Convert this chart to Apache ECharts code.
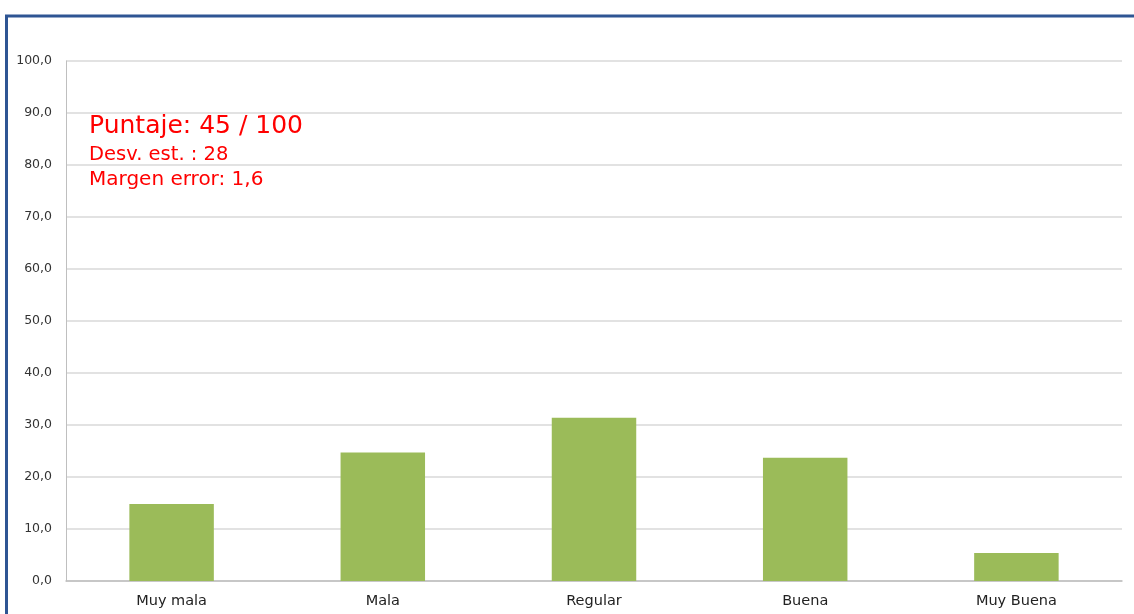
<!DOCTYPE html>
<html>
<head>
<meta charset="utf-8">
<script src="https://cdn.jsdelivr.net/npm/echarts@6/dist/echarts.min.js"></script>
<style>
  html, body { margin: 0; padding: 0; background: #fff; }
  #box { width: 1134px; height: 614px; }
</style>
</head>
<body>
<div id="box"></div>
<script>
// categorías y porcentajes
const categorias = ['Muy mala', 'Mala', 'Regular', 'Buena', 'Muy Buena'];
const valores = [14.8, 24.7, 31.4, 23.7, 5.4];
// texto de resumen
const resumen = ['Puntaje: 45 / 100', 'Desv. est. : 28', 'Margen error: 1,6'];

let chart = echarts.init(document.getElementById('box'));

const fuente = '"DejaVu Sans", Verdana, sans-serif';

let option = {
    backgroundColor: '#fff',
    animation: false,
    grid: { left: 66, right: 12, top: 61, bottom: 33 },
    xAxis: {
        type: 'category',
        data: categorias,
        axisLine: { lineStyle: { color: '#bfbfbf', width: 1.5 } },
        axisTick: { show: false },
        axisLabel: { color: '#222', fontSize: 14.5, fontFamily: fuente, margin: 13 }
    },
    yAxis: {
        type: 'value',
        min: 0,
        max: 100,
        interval: 10,
        axisLine: { show: true, lineStyle: { color: '#bfbfbf', width: 1 } },
        axisTick: { show: false },
        splitLine: { lineStyle: { color: '#d9d9d9', width: 1.5 } },
        axisLabel: {
            color: '#333', fontSize: 12.5, fontFamily: fuente, margin: 14,
            formatter: function (v) { return v.toFixed(1).replace('.', ','); }
        }
    },
    series: [{
        type: 'bar',
        data: valores,
        barWidth: '40%',
        itemStyle: { color: '#9bbb59' }
    }],
    graphic: [
        {
            type: 'rect',
            shape: { x: 6.5, y: 16, width: 1140, height: 620 },
            style: { fill: 'none', stroke: '#2e5593', lineWidth: 3 },
            silent: true
        },
        {
            type: 'text', left: 89, top: 114,
            style: { text: resumen[0], fill: '#ff0000', font: '25px ' + fuente }
        },
        {
            type: 'text', left: 89, top: 145,
            style: { text: resumen[1], fill: '#ff0000', font: '19.5px ' + fuente }
        },
        {
            type: 'text', left: 89, top: 170,
            style: { text: resumen[2], fill: '#ff0000', font: '20px ' + fuente }
        }
    ]
};
chart.setOption(option);
</script>
</body>
</html>
